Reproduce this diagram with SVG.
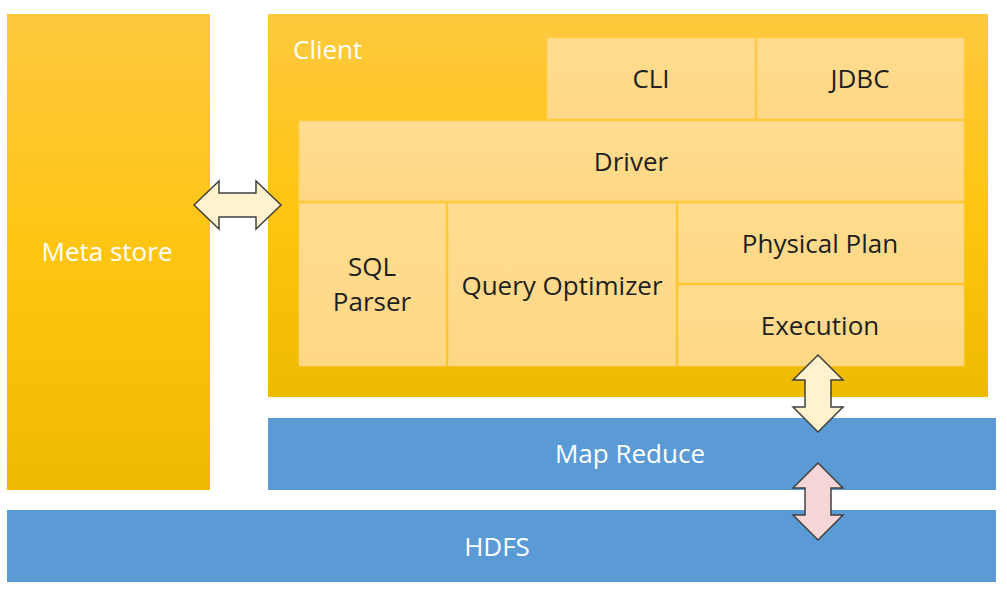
<svg xmlns="http://www.w3.org/2000/svg" width="1007" height="589" viewBox="0 0 1007 589">
<defs>
<linearGradient id="gold" x1="0" y1="0" x2="0" y2="1">
<stop offset="0" stop-color="#FFC93F"/>
<stop offset="0.5" stop-color="#FFC512"/>
<stop offset="1" stop-color="#EEBB00"/>
</linearGradient>
<linearGradient id="inner" x1="0" y1="0" x2="0" y2="1">
<stop offset="0" stop-color="#FFDC90"/>
<stop offset="1" stop-color="#FFD885"/>
</linearGradient>
<style>
.gold{fill:url(#gold);}
.box{fill:url(#inner);stroke:#FFCE5C;stroke-width:1;}
.blue{fill:#5B9BD5;}
.t{font-family:"Open Sans","Noto Sans",sans-serif;font-size:26px;fill:#1F1F1F;text-anchor:middle;}
.w{font-family:"Open Sans","Noto Sans",sans-serif;font-size:26px;fill:#FFFFFF;text-anchor:middle;}
.arrow{stroke:#404040;stroke-width:1.5;stroke-linejoin:miter;}
</style>
</defs>
<rect width="1007" height="589" fill="#FFFFFF"/>
<g id="metastore">
<rect class="gold" x="7" y="14" width="203" height="476"/>
<text class="w" x="107" y="261">Meta store</text>
</g>
<g id="client">
<rect class="gold" x="268" y="14" width="720" height="383"/>
<text class="w" x="293" y="59" style="text-anchor:start">Client</text>
</g>
<g id="cli">
<rect class="box" x="547" y="38" width="208" height="81"/>
<text class="t" x="651" y="88">CLI</text>
</g>
<g id="jdbc">
<rect class="box" x="757" y="38" width="207" height="81"/>
<text class="t" x="860" y="88">JDBC</text>
</g>
<g id="driver">
<rect class="box" x="299" y="121" width="665" height="80"/>
<text class="t" x="631" y="171">Driver</text>
</g>
<g id="sqlparser">
<rect class="box" x="299" y="203" width="147" height="163"/>
<text class="t" x="372" y="276">SQL</text>
<text class="t" x="372" y="311">Parser</text>
</g>
<g id="queryoptimizer">
<rect class="box" x="448" y="203" width="228" height="163"/>
<text class="t" x="562" y="295">Query Optimizer</text>
</g>
<g id="physicalplan">
<rect class="box" x="678" y="203" width="286" height="80"/>
<text class="t" x="820" y="253">Physical Plan</text>
</g>
<g id="execution">
<rect class="box" x="678" y="285" width="286" height="81"/>
<text class="t" x="820" y="335">Execution</text>
</g>
<g id="mapreduce">
<rect class="blue" x="268" y="418" width="728" height="72"/>
<text class="w" x="630" y="463">Map Reduce</text>
</g>
<g id="hdfs">
<rect class="blue" x="7" y="510" width="989" height="72"/>
<text class="w" x="497" y="556">HDFS</text>
</g>
<g id="connectors">
<path class="arrow" fill="#FFF2CC" d="M194,205 L219,181 L219,193 L256,193 L256,181 L281,205 L256,229 L256,217 L219,217 L219,229 Z"/>
<path class="arrow" fill="#FFF2CC" d="M818,355 L843,380 L831,380 L831,407 L843,407 L818,432 L793,407 L805,407 L805,380 L793,380 Z"/>
<path class="arrow" fill="#F5D5D5" d="M818,463 L843,488 L831,488 L831,515 L843,515 L818,540 L793,515 L805,515 L805,488 L793,488 Z"/>
</g>
</svg>
